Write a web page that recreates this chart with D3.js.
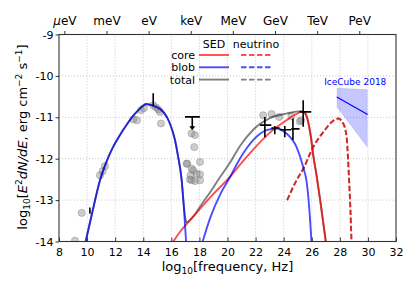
<!DOCTYPE html>
<html>
<head>
<meta charset="utf-8">
<script src="https://cdn.jsdelivr.net/npm/d3@7"></script>
<style>
  body { margin: 0; background: #fff; }
  svg { font-family: "DejaVu Sans", sans-serif; }
</style>
</head>
<body>
<div class="visHolder"></div>
<script>
// log10 frequency [Hz] vs log10 flux pairs
const blobSED = [[9.9,-14],[10.4,-13.25],[10.92,-12.52],[11.35,-12.1],[11.8,-11.75],[12.3,-11.45],[12.82,-11.18],[13.4,-10.92],[14.0,-10.72],[14.2,-10.68],[14.7,-10.72],[15.2,-10.8],[15.5,-10.9],[15.9,-11.15],[16.26,-11.55],[16.49,-11.96],[16.73,-12.5],[16.9,-13.2],[17.05,-14]];
const blobIC = [[18.23,-14],[18.8,-13.4],[19.5,-12.85],[20.17,-12.45],[20.88,-12.0],[21.83,-11.55],[22.78,-11.31],[23.49,-11.27],[24.2,-11.39],[24.92,-11.72],[25.39,-12.2],[25.63,-12.55],[25.8,-13.1],[25.98,-14]];
const coreSED = [[16.14,-14],[16.61,-13.77],[17.3,-13.5],[18.04,-13.21],[19.0,-12.85],[20.17,-12.44],[21.0,-12.1],[21.83,-11.78],[23.02,-11.37],[24.2,-11.07],[24.9,-10.92],[25.27,-10.87],[25.5,-10.9],[25.74,-11.1],[25.95,-11.5],[26.1,-11.9],[26.34,-12.4],[26.6,-13.0],[27.0,-14]];
const totalSEDlow = [[9.9,-14],[10.4,-13.25],[10.92,-12.52],[11.35,-12.1],[11.8,-11.75],[12.3,-11.45],[12.82,-11.18],[13.4,-10.92],[14.0,-10.72],[14.2,-10.68],[14.7,-10.72],[15.2,-10.8],[15.5,-10.9],[15.9,-11.15],[16.26,-11.55],[16.49,-11.96],[16.73,-12.5],[16.9,-13.18],[17.0,-13.45],[17.1,-13.55]];
const totalSEDhigh = [[17.1,-13.55],[17.6,-13.38],[18.04,-13.16],[18.98,-12.7],[19.46,-12.45],[20.17,-12.1],[20.88,-11.7],[21.83,-11.3],[23.02,-11.02],[24.2,-10.91],[25.27,-10.85],[25.5,-10.88],[25.74,-11.1],[25.95,-11.5],[26.1,-11.9],[26.34,-12.4],[26.6,-13.0],[27.0,-14]];
const coreNu = [[24.25,-13.0],[24.92,-12.52],[25.39,-12.25],[26.1,-11.72],[26.93,-11.31],[27.4,-11.12],[27.88,-11.03],[28.24,-11.15],[28.48,-11.47],[28.59,-12.04],[28.66,-12.52],[28.75,-13.2],[28.83,-14]];
const totalNu = coreNu;

// archival data points (grey circles)
const obsX = [9.14,9.62,10.92,11.11,11.27,13.29,13.55,13.84,14.05,14.71,14.9,15.07,15.19,15.26,
  17.44,17.68,17.63,17.13,17.44,17.56,18.04,17.8,17.37,18.04,17.44,18.04,17.68,17.09,17.32,
  22.54,23.14,23.68,24.56,25.15,25.25];
const obsY = [-13.98,-13.31,-12.4,-12.3,-12.18,-11.05,-11.07,-10.83,-10.78,-10.71,-10.76,-10.81,-10.87,-11.15,
  -11.39,-11.43,-11.72,-12.12,-12.24,-12.28,-12.08,-12.36,-12.4,-12.38,-12.52,-12.52,-12.54,-12.12,-12.5,
  -10.95,-10.92,-10.99,-10.97,-11.1,-11.07];

// black binned points: x, x-low, x-high, y, y-low, y-high
const binX = [22.66,23.37,24.08,24.66,25.39];
const binXlo = [22.32,23.12,23.71,24.54,25.13];
const binXhi = [23.12,23.71,24.54,25.13,25.96];
const binY = [-11.19,-11.26,-11.3,-11.28,-10.87];
const binYlo = [-11.48,-11.41,-11.48,-11.55,-11.23];
const binYhi = [-10.99,-11.21,-11.21,-11.03,-10.59];

// single error bars
const errX = [10.2,14.71];
const errYlo = [-13.33,-10.72];
const errYhi = [-13.18,-10.42];

// X-ray upper limit
const ulX = 17.49, ulXlo = 16.97, ulXhi = 18.03, ulY = -10.99, ulYarrow = -11.31;

// IceCube 2018 band and best fit
const icBandX = [27.8, 29.95, 29.95, 27.8];
const icBandY = [-10.3, -10.33, -11.72, -10.75];
const icFitX = [27.78, 29.98];
const icFitY = [-10.51, -10.93];

const xTicks = [8,10,12,14,16,18,20,22,24,26,28,30,32];
const yTicks = [-14,-13,-12,-11,-10,-9];
const energyLabels = ["µeV","meV","eV","keV","MeV","GeV","TeV","PeV"];
const energyFreq = [8.383,11.383,14.383,17.383,20.383,23.383,26.383,29.383];

const W = 415, H = 290;
const svg = d3.select(".visHolder").append("svg").attr("width", W).attr("height", H);

const x = d3.scaleLinear().domain([8, 32]).range([59, 396]);
const y = d3.scaleLinear().domain([-14, -9]).range([241.5, 34.5]);

svg.append("clipPath").attr("id", "plotclip")
  .append("rect").attr("x", 59).attr("y", 34.5).attr("width", 337).attr("height", 207);

// grid
const grid = svg.append("g");
grid.selectAll("line.gx").data(xTicks.slice(1, -1)).enter().append("line")
  .attr("x1", d => x(d)).attr("x2", d => x(d)).attr("y1", y(-14)).attr("y2", y(-9))
  .attr("stroke", "#c8c8c8").attr("stroke-width", 1).attr("stroke-dasharray", "1,2");
grid.selectAll("line.gy").data(yTicks.slice(1, -1)).enter().append("line")
  .attr("x1", x(8)).attr("x2", x(32)).attr("y1", d => y(d)).attr("y2", d => y(d))
  .attr("stroke", "#c8c8c8").attr("stroke-width", 1).attr("stroke-dasharray", "1,2");

const plot = svg.append("g").attr("clip-path", "url(#plotclip)");

// observational circles
plot.selectAll("circle").data(obsX.map((d, i) => [d, obsY[i]])).enter().append("circle")
  .attr("cx", d => x(d[0])).attr("cy", d => y(d[1])).attr("r", 3.6)
  .attr("fill", "#808080").attr("fill-opacity", 0.4)
  .attr("stroke", "#808080").attr("stroke-opacity", 0.5).attr("stroke-width", 0.8);

const line = d3.line().x(d => x(d[0])).y(d => y(d[1])).curve(d3.curveMonotoneX);

function curve(data, color, opacity, dash) {
  plot.append("path").datum(data).attr("d", line)
    .attr("fill", "none").attr("stroke", color).attr("stroke-opacity", opacity)
    .attr("stroke-width", 1.9).attr("stroke-dasharray", dash || null);
}
curve(totalSEDlow, "black", 0.5);
curve(totalSEDhigh, "black", 0.5);
curve(totalNu, "black", 0.5, "5.5,2.5");
curve(coreSED, "red", 0.7);
curve(coreNu, "red", 0.7, "5.5,2.5");
curve(blobSED, "blue", 0.7);
curve(blobIC, "blue", 0.7);

// IceCube
plot.append("path")
  .attr("d", d3.line()(icBandX.map((d, i) => [x(d), y(icBandY[i])])) + "Z")
  .attr("fill", "blue").attr("fill-opacity", 0.22).attr("stroke", "blue").attr("stroke-opacity", 0.1);
plot.append("line")
  .attr("x1", x(icFitX[0])).attr("y1", y(icFitY[0])).attr("x2", x(icFitX[1])).attr("y2", y(icFitY[1]))
  .attr("stroke", "blue").attr("stroke-width", 1.2);
svg.append("text").attr("x", x(29.1)).attr("y", 84.5).attr("text-anchor", "middle")
  .attr("font-size", 9).attr("fill", "blue").text("IceCube 2018");

// binned black crosses
const bins = plot.append("g").attr("stroke", "black").attr("stroke-width", 1.6);
binX.forEach((d, i) => {
  bins.append("line").attr("x1", x(binXlo[i])).attr("x2", x(binXhi[i])).attr("y1", y(binY[i])).attr("y2", y(binY[i]));
  bins.append("line").attr("x1", x(d)).attr("x2", x(d)).attr("y1", y(binYlo[i])).attr("y2", y(binYhi[i]));
});
errX.forEach((d, i) => {
  bins.append("line").attr("x1", x(d)).attr("x2", x(d)).attr("y1", y(errYlo[i])).attr("y2", y(errYhi[i]));
});
// upper limit
bins.append("line").attr("x1", x(ulXlo)).attr("x2", x(ulXhi)).attr("y1", y(ulY)).attr("y2", y(ulY));
bins.append("line").attr("x1", x(ulX)).attr("x2", x(ulX)).attr("y1", y(ulY)).attr("y2", y(ulYarrow) - 3);
plot.append("path")
  .attr("d", `M${x(ulX) - 3},${y(ulYarrow) - 4}L${x(ulX) + 3},${y(ulYarrow) - 4}L${x(ulX)},${y(ulYarrow)}Z`)
  .attr("fill", "black");

// frame
svg.append("rect").attr("x", 59).attr("y", 34.5).attr("width", 337).attr("height", 207)
  .attr("fill", "none").attr("stroke", "#333").attr("stroke-width", 1.1);

// axes
const axBottom = svg.append("g").attr("transform", `translate(0,${y(-14)})`)
  .call(d3.axisBottom(x).tickValues(xTicks).tickSize(-4).tickPadding(7).tickFormat(d3.format("d")));
const axLeft = svg.append("g").attr("transform", `translate(${x(8)},0)`)
  .call(d3.axisLeft(y).tickValues(yTicks).tickSize(3.5).tickPadding(2).tickFormat(d => String(d)));
const axTop = svg.append("g").attr("transform", `translate(0,${y(-9)})`)
  .call(d3.axisTop(x).tickValues(energyFreq).tickSize(3.5).tickPadding(6).tickFormat((d, i) => energyLabels[i]));
[axBottom, axLeft, axTop].forEach(g => {
  g.select(".domain").remove();
  g.selectAll("text").attr("font-size", 11).attr("font-family", "DejaVu Sans").attr("fill", "black");
  g.selectAll("line").attr("stroke", "#333");
});
axTop.selectAll("text").attr("font-size", 12);
axTop.selectAll(".tick text").filter((d, i) => i === 0).text(null)
  .call(t => { t.append("tspan").attr("font-style", "italic").text("µ"); t.append("tspan").text("eV"); });

// axis labels
const xl = svg.append("text").attr("x", 227.5).attr("y", 271).attr("text-anchor", "middle").attr("font-size", 13);
xl.append("tspan").text("log");
xl.append("tspan").attr("font-size", 9).attr("dy", 3).text("10");
xl.append("tspan").attr("dy", -3).text("[frequency, Hz]");

const yl = svg.append("text").attr("transform", "translate(27,137) rotate(-90)").attr("text-anchor", "middle").attr("font-size", 13);
yl.append("tspan").text("log");
yl.append("tspan").attr("font-size", 9).attr("dy", 3).text("10");
yl.append("tspan").attr("dy", -3).text("[");
yl.append("tspan").attr("font-style", "italic").text("E");
yl.append("tspan").attr("font-size", 9).attr("dy", -5).text("2");
yl.append("tspan").attr("dy", 5).attr("font-style", "italic").text("dN/dE");
yl.append("tspan").text(",  erg cm");
yl.append("tspan").attr("font-size", 9).attr("dy", -5).text("−2");
yl.append("tspan").attr("dy", 5).text(" s");
yl.append("tspan").attr("font-size", 9).attr("dy", -5).text("−1");
yl.append("tspan").attr("dy", 5).text("]");

// legend
const legendNames = ["core", "blob", "total"];
const legendColors = ["red", "blue", "black"];
const legendOpacity = [0.7, 0.7, 0.5];
const lg = svg.append("g").attr("font-size", 11);
lg.append("text").attr("x", 214).attr("y", 48).attr("text-anchor", "middle").text("SED");
lg.append("text").attr("x", 256).attr("y", 48).attr("text-anchor", "middle").text("neutrino");
legendNames.forEach((n, i) => {
  const yy = 55 + i * 12.3;
  lg.append("text").attr("x", 195).attr("y", yy + 4).attr("text-anchor", "end").text(n);
  lg.append("line").attr("x1", 199).attr("x2", 229).attr("y1", yy).attr("y2", yy)
    .attr("stroke", legendColors[i]).attr("stroke-opacity", legendOpacity[i]).attr("stroke-width", 1.9);
  lg.append("line").attr("x1", 241).attr("x2", 271).attr("y1", yy).attr("y2", yy)
    .attr("stroke", legendColors[i]).attr("stroke-opacity", legendOpacity[i]).attr("stroke-width", 1.9)
    .attr("stroke-dasharray", "5.5,2.5");
});
</script>
</body>
</html>
